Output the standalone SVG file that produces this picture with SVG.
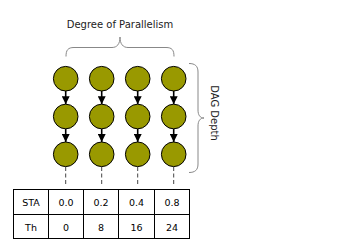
<svg xmlns="http://www.w3.org/2000/svg" width="339" height="252" viewBox="0 0 339 252">
<style>
.n{fill:#999900;stroke:#000;stroke-width:1}
.e{stroke:#000;stroke-width:1.6;fill:none}
.d{stroke:#444;stroke-width:1;stroke-dasharray:4,2.5;fill:none}
.b{stroke:#888;stroke-width:1;fill:none}
.t{font-family:"DejaVu Sans",sans-serif;font-size:9.5px;fill:#000;text-anchor:middle}
.l{font-family:"DejaVu Sans",sans-serif;font-size:10px;fill:#222;text-anchor:middle}
.g{stroke:#000;stroke-width:1;fill:#fff}
</style>
<defs>
<marker id="ah" markerWidth="8" markerHeight="8" refX="8" refY="4" orient="auto" markerUnits="userSpaceOnUse">
<path d="M0,0 L8,4 L0,8 Z" fill="#000"/>
</marker>
</defs>
<text class="l" x="120" y="28">Degree of Parallelism</text>
<path class="b" d="M66,56.5 C66,50 68,47.5 74,47.5 L112,47.5 C117,47.5 120,44 120,37 C120,44 123,47.5 128,47.5 L166,47.5 C172,47.5 174,50 174,56.5"/>
<path class="b" d="M189,63.5 C195,63.5 198,66 198,72 L198,110 C198,115 200,118 204,118 C200,118 198,121 198,126 L198,164 C198,170 195,172.5 189,172.5"/>
<text class="l" transform="translate(211,113) rotate(90)" x="0" y="0">DAG Depth</text>
<g id="connectors">
<line class="e" x1="65.7" y1="91" x2="65.7" y2="104.2" marker-end="url(#ah)"/>
<line class="e" x1="65.7" y1="128.8" x2="65.7" y2="142" marker-end="url(#ah)"/>
<line class="e" x1="101.7" y1="91" x2="101.7" y2="104.2" marker-end="url(#ah)"/>
<line class="e" x1="101.7" y1="128.8" x2="101.7" y2="142" marker-end="url(#ah)"/>
<line class="e" x1="137.7" y1="91" x2="137.7" y2="104.2" marker-end="url(#ah)"/>
<line class="e" x1="137.7" y1="128.8" x2="137.7" y2="142" marker-end="url(#ah)"/>
<line class="e" x1="173.7" y1="91" x2="173.7" y2="104.2" marker-end="url(#ah)"/>
<line class="e" x1="173.7" y1="128.8" x2="173.7" y2="142" marker-end="url(#ah)"/>
<line class="d" x1="65.7" y1="167" x2="65.7" y2="186"/>
<line class="d" x1="101.7" y1="167" x2="101.7" y2="186"/>
<line class="d" x1="137.7" y1="167" x2="137.7" y2="186"/>
<line class="d" x1="173.7" y1="167" x2="173.7" y2="186"/>
</g>
<g id="n11"><circle class="n" cx="65.7" cy="78.7" r="12.3"/></g>
<g id="n12"><circle class="n" cx="65.7" cy="116.5" r="12.3"/></g>
<g id="n13"><circle class="n" cx="65.7" cy="154.3" r="12.3"/></g>
<g id="n21"><circle class="n" cx="101.7" cy="78.7" r="12.3"/></g>
<g id="n22"><circle class="n" cx="101.7" cy="116.5" r="12.3"/></g>
<g id="n23"><circle class="n" cx="101.7" cy="154.3" r="12.3"/></g>
<g id="n31"><circle class="n" cx="137.7" cy="78.7" r="12.3"/></g>
<g id="n32"><circle class="n" cx="137.7" cy="116.5" r="12.3"/></g>
<g id="n33"><circle class="n" cx="137.7" cy="154.3" r="12.3"/></g>
<g id="n41"><circle class="n" cx="173.7" cy="78.7" r="12.3"/></g>
<g id="n42"><circle class="n" cx="173.7" cy="116.5" r="12.3"/></g>
<g id="n43"><circle class="n" cx="173.7" cy="154.3" r="12.3"/></g>
<g id="table">
<rect class="g" x="13.5" y="189.5" width="176" height="49"/>
<line class="g" x1="13.5" y1="214.5" x2="189.5" y2="214.5"/>
<line class="g" x1="48.5" y1="189.5" x2="48.5" y2="238.5"/>
<line class="g" x1="83.5" y1="189.5" x2="83.5" y2="238.5"/>
<line class="g" x1="118.5" y1="189.5" x2="118.5" y2="238.5"/>
<line class="g" x1="154.5" y1="189.5" x2="154.5" y2="238.5"/>
<text class="t" x="31" y="205.5">STA</text>
<text class="t" x="66" y="205.5">0.0</text>
<text class="t" x="101" y="205.5">0.2</text>
<text class="t" x="136.5" y="205.5">0.4</text>
<text class="t" x="172" y="205.5">0.8</text>
<text class="t" x="31" y="230.5">Th</text>
<text class="t" x="66" y="230.5">0</text>
<text class="t" x="101" y="230.5">8</text>
<text class="t" x="136.5" y="230.5">16</text>
<text class="t" x="172" y="230.5">24</text>
</g>
</svg>
